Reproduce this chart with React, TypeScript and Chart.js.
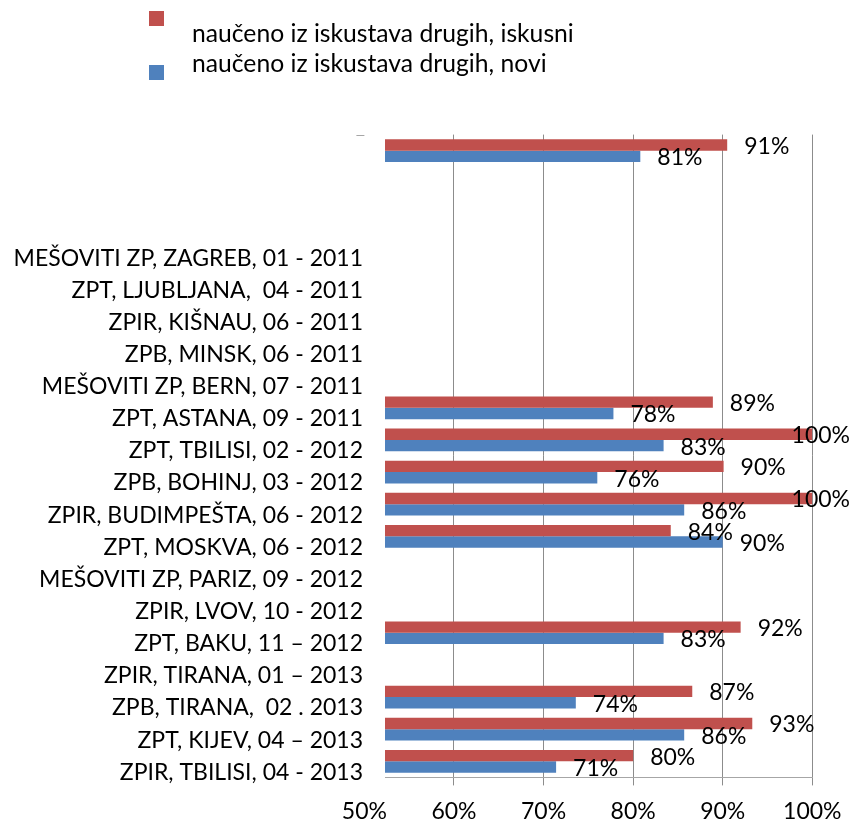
import React, { useEffect, useRef } from 'react';
import { Chart, registerables } from 'chart.js';

Chart.register(...registerables);

const categories = [
  '',
  '',
  '',
  'MEŠOVITI ZP, ZAGREB, 01 - 2011',
  'ZPT, LJUBLJANA,  04 - 2011',
  'ZPIR, KIŠNAU, 06 - 2011',
  'ZPB, MINSK, 06 - 2011',
  'MEŠOVITI ZP, BERN, 07 - 2011',
  'ZPT, ASTANA, 09 - 2011',
  'ZPT, TBILISI, 02 - 2012',
  'ZPB, BOHINJ, 03 - 2012',
  'ZPIR, BUDIMPEŠTA, 06 - 2012',
  'ZPT, MOSKVA, 06 - 2012',
  'MEŠOVITI ZP, PARIZ, 09 - 2012',
  'ZPIR, LVOV, 10 - 2012',
  'ZPT, BAKU, 11 – 2012',
  'ZPIR, TIRANA, 01 – 2013',
  'ZPB, TIRANA,  02 . 2013',
  'ZPT, KIJEV, 04 – 2013',
  'ZPIR, TBILISI, 04 - 2013',
];

const iskusni = [90.5, null, null, null, null, null, null, null, 88.9, 100, 90.1, 100, 84.2, null, null, 92.0, null, 86.6, 93.3, 80.0];
const novi = [80.8, null, null, null, null, null, null, null, 77.8, 83.4, 76.0, 85.7, 90.0, null, null, 83.4, null, 73.6, 85.7, 71.4];

const seriesNames = ['naučeno iz iskustava drugih, iskusni', 'naučeno iz iskustava drugih, novi'];
const seriesColors = ['#C0504D', '#4F81BD'];

const xTickValues = [50, 60, 70, 80, 90, 100];
const axisMin = 52.3;
const axisMax = 100;

const FONT = 'Lato';
const FONT_SIZE = 23;
const LEGEND_FONT_SIZE = 24.7;

const customDraw = {
  id: 'customDraw',
  afterDatasetsDraw(chart: any) {
    const ctx = chart.ctx;
    ctx.save();
    ctx.font = `${FONT_SIZE}px ${FONT}`;
    ctx.fillStyle = '#000';
    ctx.textBaseline = 'middle';
    ctx.textAlign = 'left';
    chart.data.datasets.forEach((ds: any, di: number) => {
      const meta = chart.getDatasetMeta(di);
      meta.data.forEach((el: any, i: number) => {
        const v = ds.data[i];
        if (v === null || v === undefined) return;
        const txt = Math.round(v) + '%';
        const w = ctx.measureText(txt).width;
        const x = Math.min(el.x + 17, 850 - w);
        ctx.fillText(txt, x, el.y + 1.5);
      });
    });
    // small axis dash at top-left
    const xs = chart.scales.x;
    const px = xs.getPixelForValue(50);
    ctx.strokeStyle = '#a6a6a6';
    ctx.lineWidth = 1;
    ctx.beginPath();
    ctx.moveTo(px - 8, Math.round(chart.chartArea.top) + 0.5);
    ctx.lineTo(px, Math.round(chart.chartArea.top) + 0.5);
    ctx.stroke();

    // legend
    const sqY = [11, 65];
    const txtY = [41.7, 71.7];
    ctx.textBaseline = 'alphabetic';
    ctx.font = `${LEGEND_FONT_SIZE}px ${FONT}`;
    chart.data.datasets.forEach((ds: any, di: number) => {
      ctx.fillStyle = ds.backgroundColor;
      ctx.fillRect(149, sqY[di], 15, 15);
      ctx.fillStyle = '#000';
      ctx.fillText(ds.label, 192, txtY[di]);
    });
    ctx.restore();
  },
};

export default function App() {
  const ref = useRef<HTMLCanvasElement | null>(null);
  useEffect(() => {
    if (!ref.current) return;
    const chart = new Chart(ref.current, {
      type: 'bar',
      data: {
        labels: categories,
        datasets: [
          { label: seriesNames[0], data: iskusni, backgroundColor: seriesColors[0], borderWidth: 0 },
          { label: seriesNames[1], data: novi, backgroundColor: seriesColors[1], borderWidth: 0 },
        ],
      },
      options: {
        indexAxis: 'y',
        animation: false,
        responsive: false,
        maintainAspectRatio: false,
        layout: { padding: { top: 134.6, right: 41.7, left: 0, bottom: 0 } },
        datasets: {
          bar: { categoryPercentage: 0.706, barPercentage: 1 },
        },
        plugins: {
          legend: { display: false },
          tooltip: { enabled: false },
        },
        scales: {
          x: {
            type: 'linear',
            min: axisMin,
            max: axisMax,
            afterBuildTicks: (scale: any) => {
              scale.ticks = xTickValues.map((v) => ({ value: v }));
            },
            afterFit: (scale: any) => {
              scale.height = 44.6;
            },
            ticks: {
              callback: (v: any) => v + '%',
              font: { family: FONT, size: FONT_SIZE },
              color: '#000',
              padding: 12,
              autoSkip: false,
              maxRotation: 0,
            },
            grid: {
              color: (c: any) => (c.tick && c.tick.value === 50 ? 'rgba(0,0,0,0)' : '#8c8c8c'),
              tickColor: (c: any) => (c.tick && c.tick.value === 50 ? 'rgba(0,0,0,0)' : '#8c8c8c'),
              tickLength: 8,
              lineWidth: 1,
            },
            border: { display: true, color: '#a6a6a6', width: 1 },
          },
          y: {
            afterFit: (scale: any) => {
              scale.width = 385;
            },
            ticks: {
              font: { family: FONT, size: FONT_SIZE },
              color: '#000',
              padding: 22,
              autoSkip: false,
              labelOffset: 11,
            },
            grid: { display: false, drawTicks: false },
            border: { display: false },
          },
        },
      },
      plugins: [customDraw],
    });
    return () => chart.destroy();
  }, []);
  return (
    <div style={{ position: 'fixed', left: 0, top: 0, width: 854, height: 822, background: '#fff' }}>
      <canvas ref={ref} width={854} height={822} style={{ display: 'block', width: 854, height: 822 }} />
    </div>
  );
}
